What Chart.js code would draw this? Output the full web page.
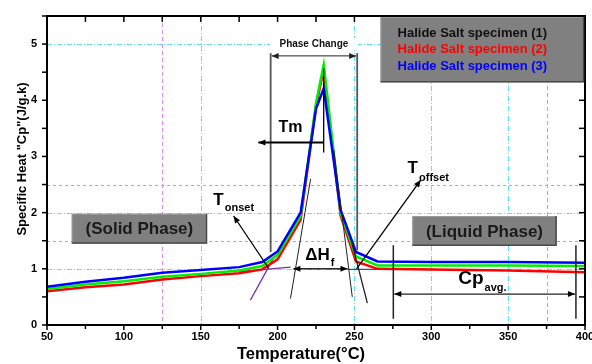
<!DOCTYPE html>
<html>
<head>
<meta charset="utf-8">
<script src="https://cdn.jsdelivr.net/npm/chart.js@4.4.0/dist/chart.umd.min.js"></script>
<style>
  html, body { margin: 0; padding: 0; background: #fff; }
  #wrap { width: 592px; height: 364px; }
</style>
</head>
<body>
<div id="wrap"><canvas id="cp-chart" width="592" height="364"></canvas></div>
<script>
// Temperature (°C) and specific heat Cp (J/g.k) for the three specimens
const temps       = [50, 75, 100, 125, 150, 175, 190, 200, 215, 225, 230, 241, 251, 265, 300, 350, 400];
const cpSpecimen1 = [0.64, 0.72, 0.78, 0.86, 0.91, 0.97, 1.05, 1.25, 1.94, 3.95, 4.63, 2.00, 1.22, 1.06, 1.06, 1.06, 1.05];
const cpSpecimen2 = [0.60, 0.67, 0.72, 0.81, 0.87, 0.92, 0.99, 1.17, 1.87, 3.90, 4.55, 1.95, 1.13, 1.00, 0.99, 0.97, 0.94];
const cpSpecimen3 = [0.68, 0.77, 0.84, 0.93, 0.98, 1.03, 1.12, 1.31, 2.00, 3.85, 4.21, 2.05, 1.30, 1.13, 1.12, 1.12, 1.11];

const xTickLabels = [50, 100, 150, 200, 250, 300, 350, 400];
const yTickLabels = [0, 1, 2, 3, 4, 5];
const legendLabels = ['Halide Salt specimen (1)', 'Halide Salt specimen (2)', 'Halide Salt specimen (3)'];
const legendColors = ['#111111', '#ff0000', '#0000ff'];

const toPoints = vals => temps.map((t, i) => ({ x: t, y: vals[i] }));

function arrowHead(ctx, fx, fy, tx, ty) {
  const a = Math.atan2(ty - fy, tx - fx);
  const len = 7, half = 3;
  ctx.beginPath();
  ctx.moveTo(tx, ty);
  ctx.lineTo(tx - len * Math.cos(a) + half * Math.sin(a), ty - len * Math.sin(a) - half * Math.cos(a));
  ctx.lineTo(tx - len * Math.cos(a) - half * Math.sin(a), ty - len * Math.sin(a) + half * Math.cos(a));
  ctx.closePath();
  ctx.fill();
}

function arrow(ctx, x1, y1, x2, y2) {
  ctx.beginPath();
  ctx.moveTo(x1, y1);
  ctx.lineTo(x2, y2);
  ctx.stroke();
  arrowHead(ctx, x1, y1, x2, y2);
}

function line(ctx, x1, y1, x2, y2) {
  ctx.beginPath();
  ctx.moveTo(x1, y1);
  ctx.lineTo(x2, y2);
  ctx.stroke();
}

// text with a subscript part, left aligned at baseline
function subText(ctx, main, sub, x, y, size, subSize, drop) {
  ctx.font = 'bold ' + size + 'px "Liberation Sans", Arial, sans-serif';
  ctx.textAlign = 'left';
  ctx.textBaseline = 'alphabetic';
  ctx.fillText(main, x, y);
  const w = ctx.measureText(main).width;
  ctx.font = 'bold ' + subSize + 'px "Liberation Sans", Arial, sans-serif';
  ctx.fillText(sub, x + w + 1, y + drop);
}

function grayBox(ctx, x1, y1, x2, y2) {
  ctx.fillStyle = '#808080';
  ctx.fillRect(x1, y1, x2 - x1, y2 - y1);
  ctx.strokeStyle = '#9a9a9a';
  ctx.lineWidth = 1;
  ctx.beginPath();
  ctx.moveTo(x1 + 0.5, y2); ctx.lineTo(x1 + 0.5, y1 + 0.5); ctx.lineTo(x2, y1 + 0.5);
  ctx.stroke();
  ctx.strokeStyle = '#4a4a4a';
  ctx.lineWidth = 1.5;
  ctx.beginPath();
  ctx.moveTo(x1, y2 - 0.5); ctx.lineTo(x2 - 0.5, y2 - 0.5); ctx.lineTo(x2 - 0.5, y1);
  ctx.stroke();
}

const overlay = {
  id: 'overlay',
  beforeDatasetsDraw(chart) {
    const { ctx, chartArea: a, scales: { x, y } } = chart;
    ctx.save();
    ctx.lineWidth = 1;
    const cyan = '#5fe3ee', pink = '#dc8ee4';
    const hLine = (v, color, dash) => {
      ctx.strokeStyle = color; ctx.setLineDash(dash);
      const py = Math.round(y.getPixelForValue(v)) + 0.5;
      line(ctx, a.left, py, a.right, py);
    };
    const vLine = (v, color, dash) => {
      ctx.strokeStyle = color; ctx.setLineDash(dash);
      const px = Math.round(x.getPixelForValue(v)) + 0.5;
      line(ctx, px, a.top, px, a.bottom);
    };
    [1, 2, 5].forEach(v => hLine(v, cyan, [5, 2, 1, 2]));
    [1.5, 2.5].forEach(v => hLine(v, pink, [3, 3]));
    [150, 250, 300, 350].forEach(v => vLine(v, cyan, [5, 2, 1, 2]));
    [125, 375].forEach(v => vLine(v, pink, [4, 3]));
    ctx.setLineDash([]);

    // onset baseline and tangent
    ctx.strokeStyle = '#7b2d9b';
    ctx.lineWidth = 1.3;
    line(ctx, x.getPixelForValue(175), y.getPixelForValue(0.95), x.getPixelForValue(208.5), y.getPixelForValue(1.03));
    line(ctx, x.getPixelForValue(182.3), y.getPixelForValue(0.44), x.getPixelForValue(197.5), y.getPixelForValue(1.2));
    // liquid baseline
    ctx.strokeStyle = '#5b3a8c';
    line(ctx, x.getPixelForValue(245.5), y.getPixelForValue(0.99), x.getPixelForValue(302), y.getPixelForValue(0.99));
    ctx.restore();
  },
  afterDatasetsDraw(chart) {
    const { ctx, chartArea: a, scales: { x, y } } = chart;
    const X = v => x.getPixelForValue(v), Y = v => y.getPixelForValue(v);
    ctx.save();

    // frame and ticks
    ctx.strokeStyle = '#000';
    ctx.lineWidth = 2;
    ctx.strokeRect(a.left, a.top, a.right - a.left, a.bottom - a.top);
    ctx.lineWidth = 1.5;
    for (let v = 50; v <= 400; v += 25) {
      const px = X(v), major = v % 50 === 0;
      line(ctx, px, a.bottom, px, a.bottom + (major ? 5 : 4));
      line(ctx, px, a.top, px, a.top + 6);
    }
    for (let v = 0; v <= 5.5; v += 0.5) {
      const py = Y(v);
      line(ctx, a.left - 5, py, a.left, py);
      line(ctx, a.right - 6, py, a.right, py);
    }

    // phase change bracket
    ctx.strokeStyle = '#555';
    ctx.lineWidth = 1.8;
    line(ctx, X(195.5), Y(4.84), X(195.5), Y(1.3));
    line(ctx, X(251.8), Y(4.84), X(251.8), Y(1.33));
    ctx.strokeStyle = '#222';
    ctx.fillStyle = '#222';
    ctx.lineWidth = 1;
    const pcx = (X(195.5) + X(251.8)) / 2;
    arrow(ctx, pcx, Y(4.79), X(195.5) + 1, Y(4.79));
    arrow(ctx, pcx, Y(4.79), X(251.8) - 1, Y(4.79));
    ctx.font = 'bold 10px "Liberation Sans", Arial, sans-serif';
    ctx.textAlign = 'center';
    ctx.textBaseline = 'middle';
    ctx.fillStyle = '#fff';
    ctx.fillRect(pcx - 44, Y(5) - 6, 88, 12);
    ctx.fillStyle = '#111';
    ctx.fillText('Phase Change', pcx, Y(5));

    // thin tangent lines around the peak
    ctx.strokeStyle = '#222';
    ctx.lineWidth = 1;
    line(ctx, X(208.4), Y(0.47), X(221.5), Y(2.6));
    line(ctx, X(248.6), Y(0.5), X(236.6), Y(3.11));
    ctx.lineWidth = 1.3;
    line(ctx, X(248), Y(1.5), X(258.4), Y(0.39));

    // Tm marker
    ctx.strokeStyle = '#000';
    ctx.fillStyle = '#000';
    ctx.lineWidth = 1.3;
    line(ctx, X(230), Y(4.57), X(230), Y(3.07));
    ctx.lineWidth = 2;
    arrow(ctx, X(230), Y(3.25), X(187.5), Y(3.25));
    ctx.font = 'bold 16px "Liberation Sans", Arial, sans-serif';
    ctx.textAlign = 'center';
    ctx.textBaseline = 'middle';
    ctx.fillText('Tm', X(208.4), Y(3.51));

    // onset / offset arrows
    ctx.lineWidth = 1.3;
    arrow(ctx, X(194.2), Y(1.01), X(171.4), Y(1.94));
    arrow(ctx, X(251.4), Y(1.0), X(293.1), Y(2.58));
    subText(ctx, 'T', 'onset', X(158.2), Y(2.13), 17, 11, 6);
    subText(ctx, 'T', 'offset', X(284.6), Y(2.7), 17, 11, 8);

    // latent heat span
    ctx.lineWidth = 1.3;
    arrow(ctx, X(228), Y(1.0), X(210.3), Y(1.0));
    arrow(ctx, X(228), Y(1.0), X(245.5), Y(1.0));
    subText(ctx, '\u0394H', 'f', X(218), Y(1.16), 17, 11, 6);

    // average Cp span in the liquid phase
    ctx.strokeStyle = '#222';
    ctx.lineWidth = 1.5;
    line(ctx, X(275.3), Y(1.42), X(275.3), Y(0.11));
    line(ctx, X(394.1), Y(1.42), X(394.1), Y(0.11));
    ctx.lineWidth = 1.3;
    arrow(ctx, X(335), Y(0.55), X(275.3) + 1, Y(0.55));
    arrow(ctx, X(335), Y(0.55), X(394.1) - 1, Y(0.55));
    ctx.fillStyle = '#000';
    subText(ctx, 'Cp', 'avg.', X(317.5), Y(0.73), 19, 11, 7);

    // phase boxes
    grayBox(ctx, X(66.1), Y(1.98), X(154.1), Y(1.45));
    grayBox(ctx, X(287.7), Y(1.94), X(381.5), Y(1.41));
    ctx.fillStyle = '#1a1a1a';
    ctx.font = 'bold 17px "Liberation Sans", Arial, sans-serif';
    ctx.textAlign = 'center';
    ctx.textBaseline = 'middle';
    ctx.fillText('(Solid Phase)', (X(66.1) + X(154.1)) / 2, (Y(1.98) + Y(1.45)) / 2 + 1);
    ctx.fillText('(Liquid Phase)', (X(287.7) + X(381.5)) / 2, (Y(1.94) + Y(1.41)) / 2 + 1);

    // legend panel
    grayBox(ctx, X(267), Y(5.5) + 1, X(400) - 1, Y(4.32));
    ctx.font = 'bold 13px "Liberation Sans", Arial, sans-serif';
    ctx.textAlign = 'left';
    ctx.textBaseline = 'middle';
    legendLabels.forEach((t, i) => {
      ctx.fillStyle = legendColors[i];
      ctx.fillText(t, X(267) + 17, Y(5.5) + 17 + i * 16.7);
    });

    // axis titles
    ctx.fillStyle = '#000';
    ctx.font = 'bold 16.5px "Liberation Sans", Arial, sans-serif';
    ctx.textAlign = 'center';
    ctx.textBaseline = 'alphabetic';
    ctx.fillText('Temperature(\u00B0C)', 301, 359);
    ctx.save();
    ctx.translate(26, 159);
    ctx.rotate(-Math.PI / 2);
    ctx.font = 'bold 13px "Liberation Sans", Arial, sans-serif';
    ctx.fillText('Specific Heat "Cp"(J/g.k)', 0, 0);
    ctx.restore();

    ctx.restore();
  }
};

const ctxEl = document.getElementById('cp-chart');
new Chart(ctxEl, {
  type: 'line',
  data: {
    datasets: [
      { label: legendLabels[2], data: toPoints(cpSpecimen3), borderColor: '#0000ff', order: 0 },
      { label: legendLabels[0], data: toPoints(cpSpecimen1), borderColor: '#00ee00', order: 1 },
      { label: legendLabels[1], data: toPoints(cpSpecimen2), borderColor: '#ff0000', order: 2 }
    ]
  },
  options: {
    responsive: false,
    animation: false,
    layout: { padding: { top: 16, right: 7, left: 0, bottom: 0 } },
    elements: {
      point: { radius: 0 },
      line: { borderWidth: 2.5, tension: 0, fill: false }
    },
    plugins: { legend: { display: false }, tooltip: { enabled: false } },
    scales: {
      x: {
        type: 'linear',
        min: 50,
        max: 400,
        grid: { display: false, drawTicks: false },
        border: { display: false },
        afterFit: s => { s.height = 39; s.paddingLeft = 0; s.paddingRight = 0; },
        ticks: {
          stepSize: 25,
          autoSkip: false,
          maxRotation: 0,
          padding: 5,
          color: '#000',
          font: { family: '"Liberation Sans", Arial, sans-serif', size: 11, weight: 'bold' },
          callback: v => xTickLabels.includes(v) ? String(v) : ''
        }
      },
      y: {
        min: 0,
        max: 5.5,
        grid: { display: false, drawTicks: false },
        border: { display: false },
        afterFit: s => { s.width = 47; s.paddingTop = 0; s.paddingBottom = 0; },
        ticks: {
          stepSize: 0.5,
          autoSkip: false,
          padding: 10,
          color: '#000',
          font: { family: '"Liberation Sans", Arial, sans-serif', size: 11, weight: 'bold' },
          callback: v => yTickLabels.includes(v) ? String(v) : ''
        }
      }
    }
  },
  plugins: [overlay]
});
</script>
</body>
</html>
